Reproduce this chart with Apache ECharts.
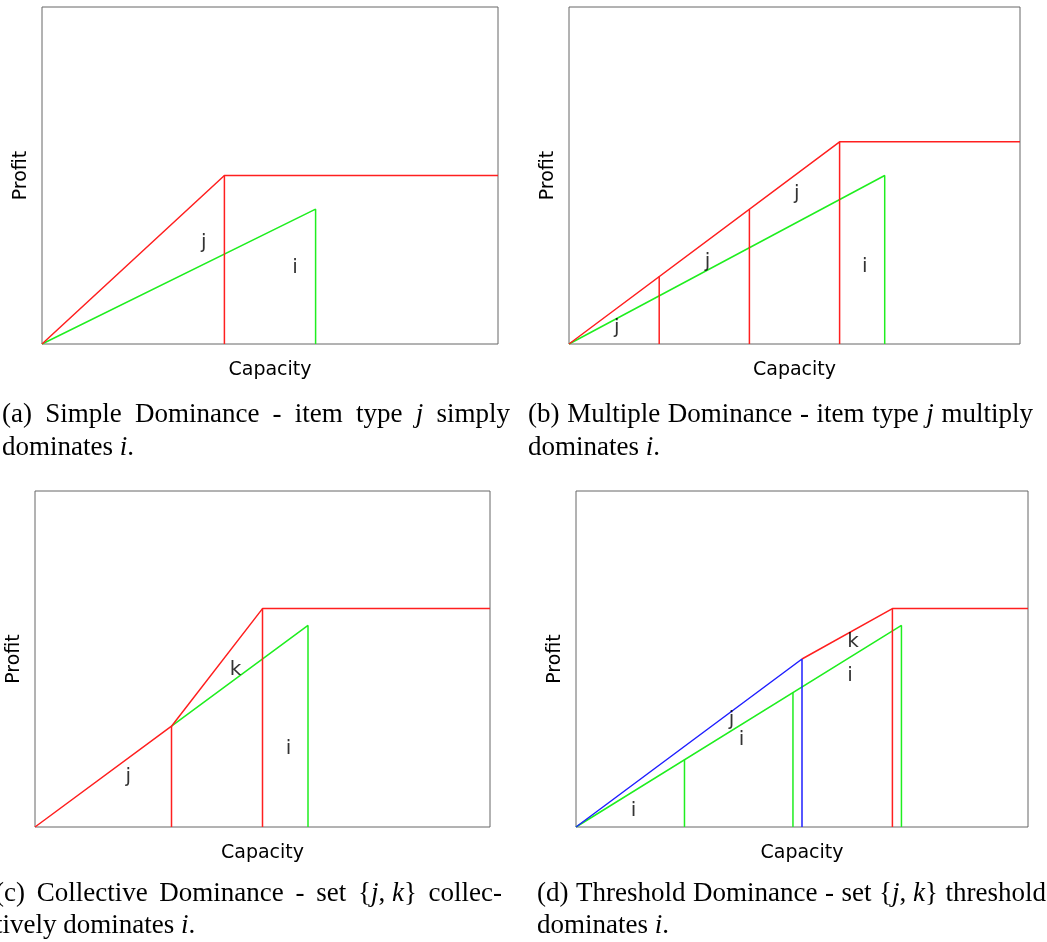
<!DOCTYPE html>
<html>
<head>
<meta charset="utf-8">
<script src="https://cdn.jsdelivr.net/npm/echarts@6/dist/echarts.min.js"></script>
<style>
html,body{margin:0;padding:0;background:#fff;}
#chart{width:1047px;height:942px;}
</style>
</head>
<body>
<div id="chart"></div>
<script>
// ---------- data (x: capacity, y: profit, both on a 0..100 scale) ----------
const xName = 'Capacity';
const yName = 'Profit';

// (a) Simple Dominance
const aRed = [[0, 0], [40, 50], [100, 50]];
const aRedDrop = [[40, 50], [40, 0]];
const aGreen = [[0, 0], [60, 40], [60, 0]];
const aLabels = [['j', 35.5, 30], ['i', 55.5, 22.5]];

// (b) Multiple Dominance
const bRed = [[0, 0], [60, 60], [100, 60]];
const bRedDrop1 = [[20, 20], [20, 0]];
const bRedDrop2 = [[40, 40], [40, 0]];
const bRedDrop3 = [[60, 60], [60, 0]];
const bGreen = [[0, 0], [70, 50], [70, 0]];
const bLabels = [['j', 10.6, 4.7], ['j', 30.7, 24.4], ['j', 50.5, 44.7], ['i', 65.6, 22.9]];

// (c) Collective Dominance
const cRed = [[0, 0], [30, 30], [50, 65], [100, 65]];
const cRedDrop1 = [[30, 30], [30, 0]];
const cRedDrop2 = [[50, 65], [50, 0]];
const cGreen = [[30, 30], [60, 60], [60, 0]];
const cLabels = [['j', 20.5, 14.9], ['k', 44.1, 46.9], ['i', 55.7, 23.3]];

// (d) Threshold Dominance
const dBlue = [[0, 0], [50, 50], [50, 0]];
const dRed = [[50, 50], [70, 65], [100, 65]];
const dRedDrop = [[70, 65], [70, 0]];
const dGreen = [[0, 0], [72, 60], [72, 0]];
const dGreenDrop1 = [[24, 20], [24, 0]];
const dGreenDrop2 = [[48, 40], [48, 0]];
const dLabels = [['i', 12.7, 4.9], ['j', 34.4, 31.8], ['i', 36.6, 26], ['k', 61.3, 55], ['i', 60.6, 45.1]];

// captions: |x| = math italic, ~ = unstretched space
const captionA = ['(a) Simple Dominance - item type |j| simply', 'dominates |i|.'];
const captionB = ['(b) Multiple Dominance - item type |j| multiply', 'dominates |i|.'];
const captionC = ['(c) Collective Dominance - set {|j|,~|k|} collec-', 'tively dominates |i|.'];
const captionD = ['(d) Threshold Dominance - set {|j|,~|k|} threshold', 'dominates |i|.'];

// ---------- styling / layout ----------
const RED = '#ff1f1f', GREEN = '#1fee1f', BLUE = '#1f1fff';
const LW = 1.5;
const SANS = '"DejaVu Sans", sans-serif';
const SERIF = '"Liberation Serif", "Times New Roman", serif';
const CAP_SIZE = 27;

const grids = [
  {left: 42, top: 7, width: 456, height: 337},
  {left: 569, top: 7, width: 451, height: 337},
  {left: 35, top: 491, width: 455, height: 336},
  {left: 576, top: 491, width: 452, height: 336}
];

const chart = echarts.init(document.getElementById('chart'), null, {renderer: 'canvas'});

function lineSeries(gi, data, color) {
  return {
    type: 'line', xAxisIndex: gi, yAxisIndex: gi, data: data,
    symbol: 'none', showSymbol: false, silent: true, animation: false,
    lineStyle: {color: color, width: LW}, z: 3
  };
}
function labelSeries(gi, labels) {
  return {
    type: 'scatter', xAxisIndex: gi, yAxisIndex: gi, symbolSize: 1,
    itemStyle: {color: 'rgba(0,0,0,0)'}, silent: true, animation: false, z: 5,
    data: labels.map(l => ({name: l[0], value: [l[1], l[2]]})),
    label: {show: true, position: 'inside', formatter: '{b}', color: '#000',
            fontFamily: SANS, fontSize: 20}
  };
}

const series = [
  lineSeries(0, aGreen, GREEN), lineSeries(0, aRed, RED), lineSeries(0, aRedDrop, RED), labelSeries(0, aLabels),
  lineSeries(1, bGreen, GREEN), lineSeries(1, bRed, RED), lineSeries(1, bRedDrop1, RED),
  lineSeries(1, bRedDrop2, RED), lineSeries(1, bRedDrop3, RED), labelSeries(1, bLabels),
  lineSeries(2, cGreen, GREEN), lineSeries(2, cRed, RED), lineSeries(2, cRedDrop1, RED),
  lineSeries(2, cRedDrop2, RED), labelSeries(2, cLabels),
  lineSeries(3, dGreen, GREEN), lineSeries(3, dGreenDrop1, GREEN), lineSeries(3, dGreenDrop2, GREEN),
  lineSeries(3, dRed, RED), lineSeries(3, dRedDrop, RED), lineSeries(3, dBlue, BLUE), labelSeries(3, dLabels)
];

const axisCommon = {
  type: 'value', min: 0, max: 100,
  axisLine: {show: false}, axisTick: {show: false}, axisLabel: {show: false}, splitLine: {show: false},
  nameLocation: 'middle',
  nameTextStyle: {fontFamily: SANS, fontSize: 19, color: '#000'}
};

// ---------- caption layout (justified lines) ----------
const mctx = document.createElement('canvas').getContext('2d');
function fontOf(it) { return (it ? 'italic ' : '') + CAP_SIZE + 'px ' + SERIF; }
function measure(t, it) { mctx.font = fontOf(it); return mctx.measureText(t).width; }

function captionLine(str, left, right, y, justify) {
  const words = str.split(' ').map(w => w.split('|').map((p, i) => ({t: p.replace(/~/g, ' '), it: i % 2 === 1})).filter(p => p.t.length));
  const widths = words.map(ps => ps.reduce((s, p) => s + measure(p.t, p.it), 0));
  const total = widths.reduce((s, w) => s + w, 0);
  const gap = justify && words.length > 1 ? (right - left - total) / (words.length - 1) : measure(' ', false);
  const els = [];
  let x = left;
  words.forEach((ps) => {
    ps.forEach(p => {
      els.push({type: 'text', x: x, y: y, silent: true,
        style: {text: p.t, font: fontOf(p.it), fill: '#000', align: 'left', verticalAlign: 'middle'}});
      x += measure(p.t, p.it);
    });
    x += gap;
  });
  return els;
}

const graphics = [].concat(
  captionLine(captionA[0], 2, 510, 415, true), captionLine(captionA[1], 2, 510, 448, false),
  captionLine(captionB[0], 528, 1033, 415, true), captionLine(captionB[1], 528, 1033, 448, false),
  captionLine(captionC[0], -5, 502, 894, true), captionLine(captionC[1], -5, 502, 926, false),
  captionLine(captionD[0], 537, 1046, 894, true), captionLine(captionD[1], 537, 1046, 926, false)
);

chart.setOption({
  animation: false,
  backgroundColor: '#fff',
  grid: grids.map(g => Object.assign({show: true, borderColor: '#666', borderWidth: 1, containLabel: false}, g)),
  xAxis: grids.map((g, i) => Object.assign({gridIndex: i, name: xName, nameGap: 17}, axisCommon)),
  yAxis: grids.map((g, i) => Object.assign({gridIndex: i, name: yName, nameGap: 11}, axisCommon)),
  series: series,
  graphic: graphics
});
</script>
</body>
</html>
